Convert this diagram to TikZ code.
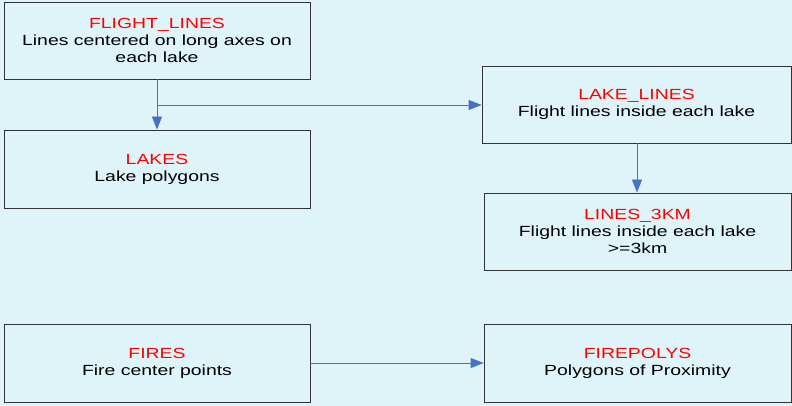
\documentclass[tikz,border=0pt]{standalone}
\usepackage{fontspec}
\setmainfont[FakeStretch=1.32]{Liberation Sans}
\usetikzlibrary{arrows.meta}
\definecolor{bgcyan}{HTML}{DFF4F9}
\definecolor{linkblue}{HTML}{4472C4}
\definecolor{boxline}{HTML}{333333}
\tikzset{
  layer/.style={draw=boxline, line width=0.9pt, fill=bgcyan, align=center,
    inner sep=0pt, font=\fontsize{14.7}{17}\selectfont},
  link/.style={draw=linkblue, line width=0.9pt, -{Triangle[length=13pt,width=10pt]}},
}
\newcommand{\lname}[1]{\textcolor{red}{#1}}
\begin{document}
\begin{tikzpicture}[x=1pt,y=-1pt]
  \fill[bgcyan] (0,0) rectangle (792,406);
  \useasboundingbox (0,0) rectangle (792,406);

  \node[layer, minimum width=306pt, minimum height=77pt] (flight) at (157,40.5)
    {\lname{FLIGHT\_LINES}\\Lines centered on long axes on\\each lake};
  \node[layer, minimum width=306pt, minimum height=78pt] (lakes) at (157,169)
    {\lname{LAKES}\\Lake polygons};
  \node[layer, minimum width=309pt, minimum height=77pt] (lakelines) at (636.5,104.5)
    {\lname{LAKE\_LINES}\\Flight lines inside each lake};
  \node[layer, minimum width=307pt, minimum height=77pt] (lines3km) at (637.5,231.5)
    {\lname{LINES\_3KM}\\Flight lines inside each lake\\>=3km};
  \node[layer, minimum width=306pt, minimum height=78pt] (fires) at (157,363)
    {\lname{FIRES}\\Fire center points};
  \node[layer, minimum width=307pt, minimum height=78pt] (firepolys) at (637.5,363)
    {\lname{FIREPOLYS}\\Polygons of Proximity};

  \coordinate (split) at (157,105);
  \draw[link] (flight) -- (lakes);
  \draw[link] (split) -- (split -| lakelines.west);
  \draw[link] (lakelines.south -| 637,0) -- (lines3km.north -| 637,0);
  \draw[link] (fires) -- (firepolys);
\end{tikzpicture}
\end{document}
